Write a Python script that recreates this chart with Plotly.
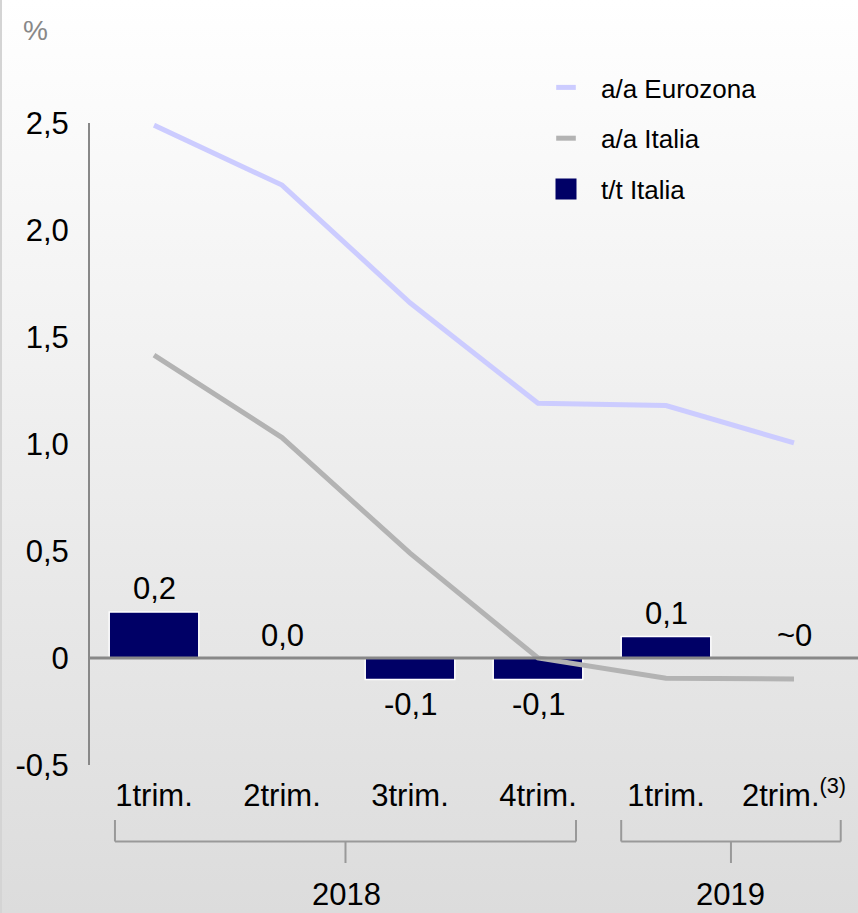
import base64
import plotly.graph_objects as go

# ---------------- data ----------------
quarters = ["1trim.", "2trim.", "3trim.", "4trim.", "1trim.", "2trim.<sup>(3)</sup>"]
years = ["2018", "2018", "2018", "2018", "2019", "2019"]
tt_italia = [0.215, 0.0, -0.1, -0.1, 0.1, 0.0]
tt_labels = ["0,2", "0,0", "-0,1", "-0,1", "0,1", "~0"]
aa_eurozona = [2.49, 2.21, 1.66, 1.19, 1.18, 1.005]
aa_italia = [1.415, 1.03, 0.49, 0.0, -0.095, -0.098]
y_tickvals = [-0.5, 0, 0.5, 1.0, 1.5, 2.0, 2.5]
y_ticktext = ["-0,5", "0", "0,5", "1,0", "1,5", "2,0", "2,5"]

# ---------------- style ----------------
W, H = 858, 913
ML, MR, MT, MB = 90, 0, 123, 148
PW, PH = W - ML - MR, H - MT - MB
FONT = "Liberation Sans, Arial, sans-serif"
FS = 31
NAVY = "#000066"
EURO = "#ccccff"
ITA = "#b3b3b3"
AXIS = "#888888"

x = list(range(len(quarters)))


def px_to_paper_y(py):
    return (H - MB - py) / PH


def px_to_paper_x(px):
    return (px - ML) / PW


fig = go.Figure()

# bars (t/t Italia)
fig.add_trace(go.Bar(
    x=x, y=tt_italia, width=0.7,
    marker=dict(color=NAVY, line=dict(color="white", width=1.5)),
    showlegend=False, hoverinfo="skip",
))
# lines
fig.add_trace(go.Scatter(
    x=x, y=aa_eurozona, mode="lines",
    line=dict(color=EURO, width=5), showlegend=False, hoverinfo="skip",
))
fig.add_trace(go.Scatter(
    x=x, y=aa_italia, mode="lines",
    line=dict(color=ITA, width=5), showlegend=False, hoverinfo="skip",
))

# legend entries
fig.add_trace(go.Scatter(
    x=[None], y=[None], mode="markers", name="a/a Eurozona", legendgroup="a",
    marker=dict(symbol="line-ew", size=14, color=EURO, line=dict(color=EURO, width=6)),
))
fig.add_trace(go.Scatter(
    x=[None], y=[None], mode="markers", name="a/a Italia", legendgroup="b",
    marker=dict(symbol="line-ew", size=14, color=ITA, line=dict(color=ITA, width=6)),
))
fig.add_trace(go.Scatter(
    x=[None], y=[None], mode="markers", name="t/t Italia", legendgroup="c",
    marker=dict(symbol="square", size=16, color=NAVY, line=dict(color=NAVY, width=5)),
))

# data labels
annotations = []
for xi, v, lab in zip(x, tt_italia, tt_labels):
    annotations.append(dict(
        x=xi, y=v, xref="x", yref="y", text=lab, showarrow=False,
        yanchor="middle", yshift=(-25 if v < 0 else 23),
        font=dict(family=FONT, size=FS, color="black"),
    ))

# year brackets
shapes = []
group_names = []
for yv in years:
    if yv not in group_names:
        group_names.append(yv)
pads = {"2018": (0.305, 0.297), "2019": (0.35, 0.365)}
y_top = px_to_paper_y(820)
y_mid = px_to_paper_y(841.5)
y_bot = px_to_paper_y(863)
y_lab = px_to_paper_y(913)
for g in group_names:
    idx = [i for i, yv in enumerate(years) if yv == g]
    x0 = idx[0] - pads[g][0]
    x1 = idx[-1] + pads[g][1]
    xc = (x0 + x1) / 2
    line = dict(color="#999999", width=2)
    shapes.append(dict(type="line", xref="x", yref="paper", x0=x0, x1=x0, y0=y_top, y1=y_mid, line=line))
    shapes.append(dict(type="line", xref="x", yref="paper", x0=x1, x1=x1, y0=y_top, y1=y_mid, line=line))
    shapes.append(dict(type="line", xref="x", yref="paper", x0=x0, x1=x1, y0=y_mid, y1=y_mid, line=line))
    shapes.append(dict(type="line", xref="x", yref="paper", x0=xc, x1=xc, y0=y_mid, y1=y_bot, line=line))
    annotations.append(dict(
        x=(idx[0] + idx[-1]) / 2, y=y_lab, xref="x", yref="paper", text=g,
        showarrow=False, yanchor="bottom", borderpad=0,
        font=dict(family=FONT, size=FS, color="black"),
    ))

# zero line drawn above the bars
shapes.append(dict(type="line", xref="paper", yref="y", x0=0, x1=1, y0=0, y1=0,
                   line=dict(color=AXIS, width=3), layer="above"))

# left border
shapes.append(dict(type="line", xref="paper", yref="paper",
                   x0=px_to_paper_x(1), x1=px_to_paper_x(1),
                   y0=px_to_paper_y(H), y1=px_to_paper_y(0),
                   line=dict(color="#d4d4d4", width=2), layer="below"))

# unit label
annotations.append(dict(
    x=px_to_paper_x(35), y=px_to_paper_y(30), xref="paper", yref="paper",
    text="%", showarrow=False, xanchor="center", yanchor="middle",
    font=dict(family=FONT, size=28, color="#888888"),
))

# background gradient
svg = (
    '<svg xmlns="http://www.w3.org/2000/svg" width="858" height="913" '
    'preserveAspectRatio="none" viewBox="0 0 858 913">'
    '<defs><linearGradient id="g" x1="0" y1="0" x2="0" y2="1">'
    '<stop offset="0" stop-color="#ffffff"/><stop offset="1" stop-color="#dcdcdc"/>'
    '</linearGradient></defs><rect width="858" height="913" fill="url(#g)"/></svg>'
)
src = "data:image/svg+xml;base64," + base64.b64encode(svg.encode()).decode()

fig.update_layout(
    width=W, height=H,
    margin=dict(l=ML, r=MR, t=MT, b=MB, pad=0),
    paper_bgcolor="white",
    plot_bgcolor="rgba(0,0,0,0)",
    font=dict(family=FONT, color="black"),
    images=[dict(source=src, xref="paper", yref="paper",
                 x=px_to_paper_x(0), y=px_to_paper_y(0),
                 sizex=W / PW, sizey=H / PH, sizing="stretch",
                 xanchor="left", yanchor="top", layer="below")],
    xaxis=dict(
        range=[-0.5, len(quarters) - 0.5], tickvals=x, ticktext=quarters,
        showgrid=False, zeroline=False, showline=False, ticks="",
        tickfont=dict(family=FONT, size=FS, color="black"),
        ticklabelstandoff=9, fixedrange=True,
    ),
    yaxis=dict(
        range=[-0.5, 2.5], tickvals=y_tickvals, ticktext=y_ticktext,
        showgrid=False, zeroline=False,
        showline=True, linecolor=AXIS, linewidth=2, ticks="",
        tickfont=dict(family=FONT, size=FS, color="black"),
        ticklabelstandoff=13, fixedrange=True,
    ),
    legend=dict(
        x=px_to_paper_x(531), y=px_to_paper_y(64), xanchor="left", yanchor="top",
        bgcolor="rgba(0,0,0,0)", borderwidth=0,
        font=dict(family=FONT, size=26, color="black"),
        itemwidth=60, tracegroupgap=14, traceorder="grouped",
    ),
    bargap=0.3,
    shapes=shapes,
    annotations=annotations,
    showlegend=True,
)

fig.write_html("out.html", config={"displayModeBar": False})
